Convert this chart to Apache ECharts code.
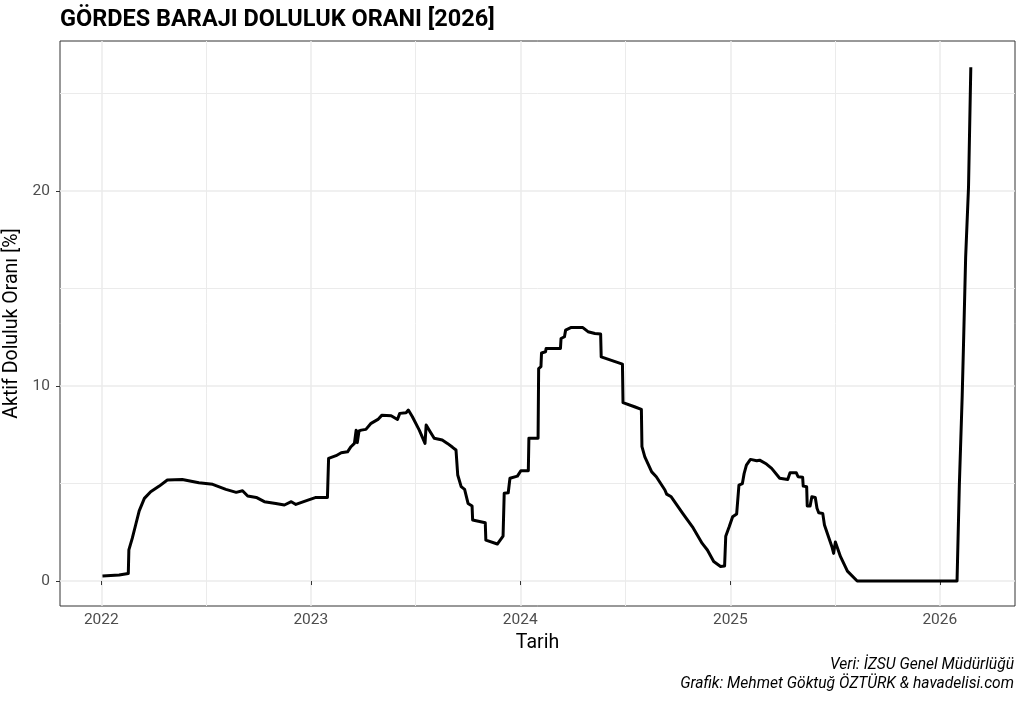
<!DOCTYPE html>
<html>
<head>
<meta charset="utf-8">
<script src="https://cdn.jsdelivr.net/npm/echarts@6/dist/echarts.min.js"></script>
<style>
html,body{margin:0;padding:0;background:#fff;}
#chart{width:1024px;height:704px;}
</style>
</head>
<body>
<div id="chart"></div>
<script>
const titleText = 'GÖRDES BARAJI DOLULUK ORANI [2026]';
const yAxisTitle = 'Aktif Doluluk Oranı [%]';
const xAxisTitle = 'Tarih';
const captionLines = ['Veri: İZSU Genel Müdürlüğü', 'Grafik: Mehmet Göktuğ ÖZTÜRK & havadelisi.com'];

const dates = [
'2022-01-03','2022-02-01','2022-02-17','2022-02-18','2022-02-24','2022-03-02','2022-03-08','2022-03-17','2022-03-28','2022-04-12','2022-04-26','2022-05-22','2022-06-20','2022-07-14','2022-08-06','2022-08-24','2022-09-04','2022-09-13','2022-09-28','2022-10-12','2022-11-01','2022-11-16','2022-11-28','2022-12-06','2022-12-27',
'2023-01-10','2023-01-30','2023-02-01','2023-02-14','2023-02-23','2023-03-06','2023-03-12','2023-03-18','2023-03-21','2023-03-23','2023-03-26','2023-03-30','2023-04-07','2023-04-16','2023-04-28','2023-05-05','2023-05-21','2023-06-01','2023-06-05','2023-06-16','2023-06-20','2023-06-27','2023-07-09','2023-07-19','2023-07-21','2023-07-28','2023-08-04','2023-08-18','2023-08-27','2023-09-05','2023-09-11','2023-09-14','2023-09-20','2023-09-26','2023-10-02','2023-10-09','2023-10-10','2023-11-01','2023-11-02','2023-11-22','2023-12-02','2023-12-04','2023-12-11','2023-12-14','2023-12-27',
'2024-01-02','2024-01-15','2024-01-16','2024-02-01','2024-02-02','2024-02-06','2024-02-07','2024-02-14','2024-02-15','2024-03-11','2024-03-12','2024-03-18','2024-03-20','2024-03-29','2024-04-19','2024-04-28','2024-05-10','2024-05-20','2024-05-21','2024-06-27','2024-06-28','2024-07-18','2024-07-30','2024-07-31','2024-08-05','2024-08-17','2024-08-25','2024-09-09','2024-09-12','2024-09-20','2024-10-10','2024-10-27','2024-11-13','2024-11-22','2024-12-03','2024-12-15','2024-12-22','2024-12-24','2024-12-30',
'2025-01-05','2025-01-12','2025-01-16','2025-01-22','2025-01-25','2025-01-29','2025-02-05','2025-02-16','2025-02-21','2025-03-05','2025-03-14','2025-03-28','2025-04-11','2025-04-15','2025-04-26','2025-04-29','2025-05-07','2025-05-08','2025-05-14','2025-05-15','2025-05-20','2025-05-23','2025-05-29','2025-06-01','2025-06-04','2025-06-11','2025-06-14','2025-06-21','2025-06-27','2025-06-30','2025-07-03','2025-07-12','2025-07-24','2025-08-10',
'2026-01-31','2026-02-04','2026-02-09','2026-02-11','2026-02-15','2026-02-20','2026-02-24'
];

const values = [
0.26,0.31,0.39,1.6,2.2,2.9,3.6,4.24,4.58,4.87,5.18,5.21,5.04,4.96,4.70,4.55,4.63,4.36,4.29,4.07,3.98,3.90,4.07,3.93,4.15,
4.29,4.29,6.29,6.43,6.58,6.63,6.89,7.06,7.74,7.1,7.7,7.74,7.78,8.09,8.29,8.51,8.48,8.29,8.6,8.63,8.77,8.43,7.74,7.06,8.0,7.66,7.32,7.23,7.06,6.86,6.72,5.44,4.84,4.70,3.98,3.85,3.13,2.99,2.10,1.90,2.31,4.50,4.53,5.27,5.38,
5.66,5.66,7.32,7.32,10.9,11.0,11.7,11.76,11.93,11.93,12.44,12.53,12.87,13.0,13.0,12.79,12.70,12.67,11.5,11.13,9.15,8.94,8.80,6.89,6.37,5.60,5.35,4.67,4.46,4.32,3.47,2.78,1.93,1.59,1.0,0.75,0.77,2.3,2.78,
3.3,3.44,4.92,5.0,5.51,5.95,6.24,6.17,6.2,6.0,5.78,5.27,5.21,5.55,5.55,5.35,5.32,4.87,4.84,3.85,3.85,4.32,4.29,3.73,3.5,3.47,2.87,2.27,1.76,1.42,2.0,1.25,0.51,0,
0,4.9,9.5,11.8,16.6,20.2,26.35
];

const yMajorTicks = [0, 10, 20];
const yMinorTicks = [5, 15, 25];
const xMajorTicks = ['2022-01-01','2023-01-01','2024-01-01','2025-01-01','2026-01-01'];
const xMinorTicks = ['2022-07-02','2023-07-02','2024-07-02','2025-07-02'];
const xRange = ['2021-10-21','2026-05-12'];
const yRange = [-1.28, 27.7];

function ts(s){ const p = s.split('-').map(Number); return Date.UTC(p[0], p[1]-1, p[2]); }

const chart = echarts.init(document.getElementById('chart'), null, {renderer:'canvas'});
const FONT = 'Roboto';
const gridColor = '#EBEBEB';

const option = {
  animation: false,
  backgroundColor: '#fff',
  textStyle: {fontFamily: FONT},
  title: {
    text: titleText, left: 55, top: 3,
    textStyle: {fontFamily: FONT, fontWeight: 'bold', fontSize: 23.5, color: '#000'}
  },
  graphic: [{
    type: 'text', right: 10, top: 657,
    style: {text: captionLines[0], fontFamily: FONT, fontStyle: 'italic', fontSize: 15.6, fill: '#000'}
  }, {
    type: 'text', right: 10, top: 676,
    style: {text: captionLines[1], fontFamily: FONT, fontStyle: 'italic', fontSize: 15.6, fill: '#000'}
  }],
  grid: {left: 60, right: 9, top: 41, bottom: 98, show: true, borderColor: '#333', borderWidth: 1, backgroundColor: '#fff', containLabel: false, outerBoundsMode: 'none'},
  xAxis: [{
    type: 'value', min: ts(xRange[0]), max: ts(xRange[1]),
    name: xAxisTitle, nameLocation: 'middle', nameGap: 25,
    nameTextStyle: {fontFamily: FONT, fontSize: 19.5, color: '#000'},
    axisLine: {show: false},
    axisTick: {show: true, length: 4, lineStyle: {color: '#333'}, customValues: xMajorTicks.map(ts)},
    axisLabel: {customValues: xMajorTicks.map(ts), formatter: v => String(new Date(v).getUTCFullYear()), fontFamily: FONT, fontSize: 15.5, color: '#4D4D4D', margin: 6},
    splitLine: {show: true, lineStyle: {color: gridColor, width: 1.5}}
  }, {
    type: 'value', min: ts(xRange[0]), max: ts(xRange[1]), position: 'bottom',
    axisLine: {show: false},
    axisTick: {show: false, customValues: xMinorTicks.map(ts)},
    axisLabel: {show: false, customValues: xMinorTicks.map(ts)},
    splitLine: {show: true, lineStyle: {color: gridColor, width: 1}}
  }],
  yAxis: [{
    type: 'value', min: yRange[0], max: yRange[1],
    name: yAxisTitle, nameLocation: 'middle', nameGap: 37, nameRotate: 90,
    nameTextStyle: {fontFamily: FONT, fontSize: 19.5, color: '#000'},
    axisLine: {show: false},
    axisTick: {show: true, length: 4, lineStyle: {color: '#333'}, customValues: yMajorTicks},
    axisLabel: {customValues: yMajorTicks, fontFamily: FONT, fontSize: 15.5, color: '#4D4D4D', margin: 10},
    splitLine: {show: true, lineStyle: {color: gridColor, width: 1.5}}
  }, {
    type: 'value', min: yRange[0], max: yRange[1], position: 'left',
    axisLine: {show: false},
    axisTick: {show: false, customValues: yMinorTicks},
    axisLabel: {show: false, customValues: yMinorTicks},
    splitLine: {show: true, lineStyle: {color: gridColor, width: 1}}
  }],
  series: [{
    type: 'line', xAxisIndex: 0, yAxisIndex: 0,
    data: dates.map((d, i) => [ts(d), values[i]]),
    showSymbol: false, symbol: 'none',
    lineStyle: {color: '#000', width: 3, join: 'round'},
    silent: true
  }]
};
chart.setOption(option);
</script>
</body>
</html>
